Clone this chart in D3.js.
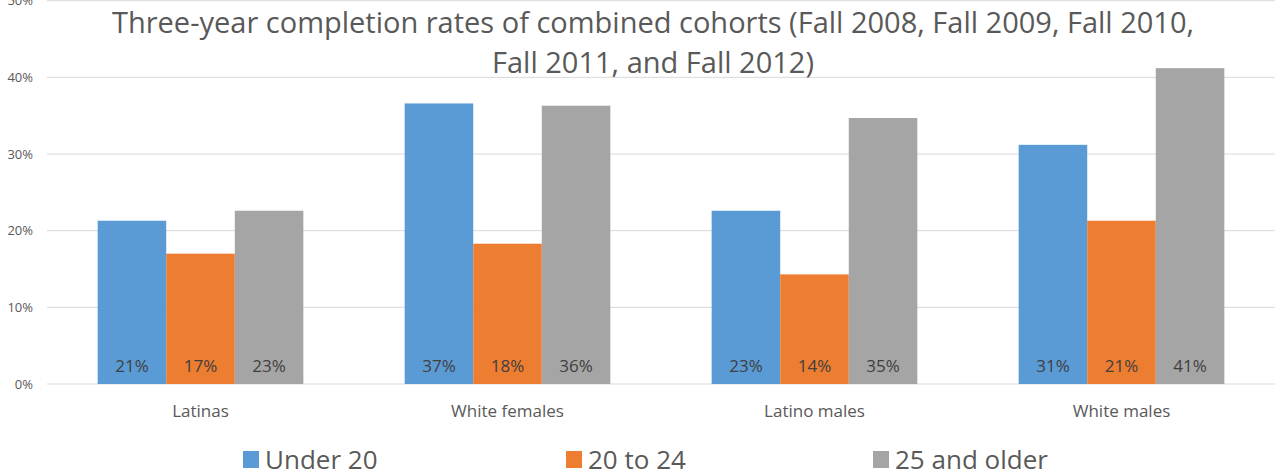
<!DOCTYPE html>
<html>
<head>
<meta charset="utf-8">
<script src="https://cdn.jsdelivr.net/npm/d3@7"></script>
<style>
    body { margin: 0; background: #fff; }
    text { font-family: "Open Sans", sans-serif; }
</style>
</head>
<body>
<div id="chart"></div>
<script>
const groups = ["Latinas", "White females", "Latino males", "White males"];
const seriesNames = ["Under 20", "20 to 24", "25 and older"];
const under20 = [0.213, 0.366, 0.226, 0.312];
const from20to24 = [0.170, 0.183, 0.143, 0.213];
const over25 = [0.226, 0.363, 0.347, 0.412];
const yTicks = [0, 0.1, 0.2, 0.3, 0.4, 0.5];
const titleLines = [
    "Three-year completion rates of combined cohorts (Fall 2008, Fall 2009, Fall 2010,",
    "Fall 2011, and Fall 2012)"
];

const colors = ["#5B9BD5", "#ED7D31", "#A5A5A5"];
const seriesValues = [under20, from20to24, over25];

const width = 1280, height = 474;

const svg = d3.select("#chart").append("svg")
    .attr("width", width)
    .attr("height", height);

const x0 = d3.scaleBand()
    .domain(groups)
    .range([47, 1275])
    .paddingInner(0.33)
    .paddingOuter(0.165);

const x1 = d3.scaleBand()
    .domain(d3.range(seriesNames.length))
    .range([0, x0.bandwidth()]);

const y = d3.scaleLinear()
    .domain([0, 0.5])
    .range([384, 0.7]);

// gridlines
svg.append("g")
    .selectAll("line")
    .data(yTicks)
    .enter().append("line")
    .attr("x1", 47)
    .attr("x2", 1275)
    .attr("y1", d => y(d))
    .attr("y2", d => y(d))
    .attr("stroke", "#D9D9D9")
    .attr("stroke-width", 1);

// y axis labels
svg.append("g")
    .selectAll("text")
    .data(yTicks)
    .enter().append("text")
    .attr("x", 33)
    .attr("y", d => y(d))
    .attr("dy", "0.35em")
    .attr("text-anchor", "end")
    .attr("font-size", 13)
    .attr("fill", "#595959")
    .text(d => d3.format(".0%")(d));

// bars
const rows = groups.map((g, i) => ({ group: g, values: seriesValues.map(s => s[i]) }));

const groupG = svg.append("g")
    .selectAll("g")
    .data(rows)
    .enter().append("g")
    .attr("transform", d => "translate(" + x0(d.group) + ",0)");

groupG.selectAll("rect")
    .data(d => d.values.map((v, k) => ({ k: k, v: v })))
    .enter().append("rect")
    .attr("x", d => x1(d.k))
    .attr("width", x1.bandwidth())
    .attr("y", d => y(d.v))
    .attr("height", d => y(0) - y(d.v))
    .attr("fill", d => colors[d.k]);

groupG.selectAll("text")
    .data(d => d.values.map((v, k) => ({ k: k, v: v })))
    .enter().append("text")
    .attr("x", d => x1(d.k) + x1.bandwidth() / 2)
    .attr("y", 366)
    .attr("dy", "0.35em")
    .attr("text-anchor", "middle")
    .attr("font-size", 17)
    .attr("fill", "#404040")
    .text(d => d3.format(".0%")(d.v));

// category labels
svg.append("g")
    .selectAll("text")
    .data(groups)
    .enter().append("text")
    .attr("x", d => x0(d) + x0.bandwidth() / 2)
    .attr("y", 411)
    .attr("dy", "0.35em")
    .attr("text-anchor", "middle")
    .attr("font-size", 17)
    .attr("fill", "#595959")
    .text(d => d);

// title
svg.append("g")
    .selectAll("text")
    .data(titleLines)
    .enter().append("text")
    .attr("x", 653)
    .attr("y", (d, i) => 23 + i * 40)
    .attr("dy", "0.35em")
    .attr("text-anchor", "middle")
    .attr("font-size", 29)
    .attr("fill", "#595959")
    .text(d => d);

// legend
const legendX = [243, 566, 873];
const legend = svg.append("g")
    .selectAll("g")
    .data(seriesNames)
    .enter().append("g")
    .attr("transform", (d, i) => "translate(" + legendX[i] + ",451)");

legend.append("rect")
    .attr("width", 16)
    .attr("height", 17)
    .attr("fill", (d, i) => colors[i]);

legend.append("text")
    .attr("x", 22)
    .attr("y", 9)
    .attr("dy", "0.35em")
    .attr("font-size", 26)
    .attr("fill", "#595959")
    .text(d => d);
</script>
</body>
</html>
